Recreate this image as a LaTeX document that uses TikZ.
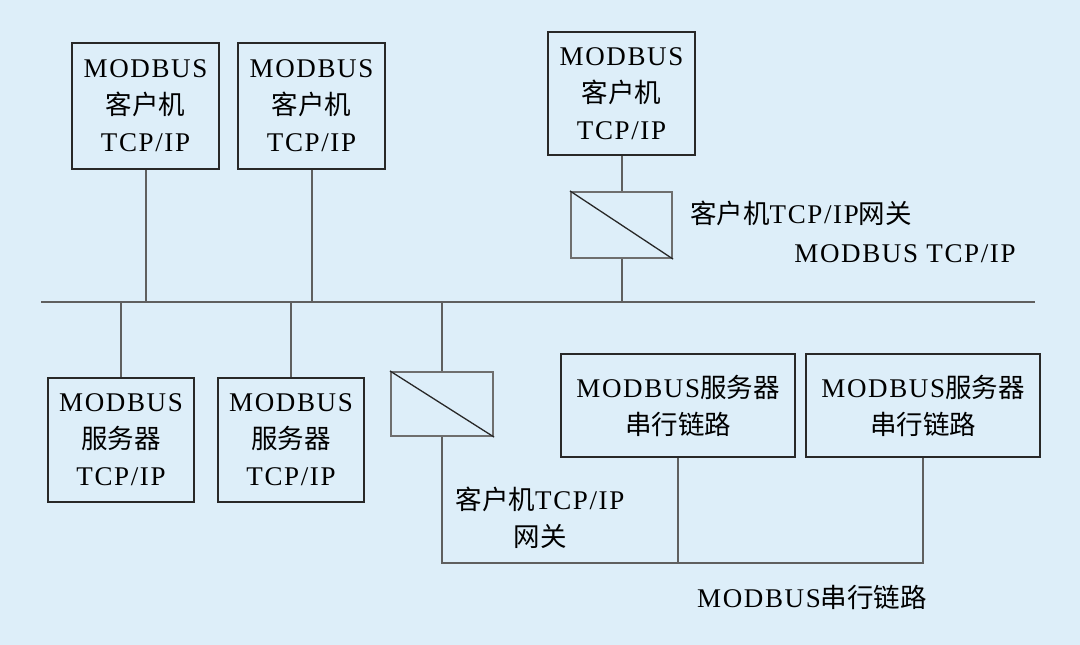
\documentclass[tikz,border=0pt]{standalone}
\usepackage{fontspec}
\setmainfont{Liberation Serif}[LetterSpace=6]
\newfontfamily\cjk{Noto Sans CJK SC}
\newcommand{\zh}[1]{{\cjk\fontsize{26.5}{37}\selectfont #1}}
\definecolor{bgblue}{RGB}{221,238,249}
\definecolor{boxline}{RGB}{40,40,40}
\definecolor{wire}{RGB}{95,95,95}
\definecolor{gwline}{RGB}{110,110,110}
\begin{document}
\begin{tikzpicture}[x=1pt,y=-1pt,
  txt/.style={font=\fontsize{27}{37}\selectfont, text=black, align=center, inner sep=0pt},
  devbox/.style={txt, draw=boxline, line width=1.8pt, fill=bgblue},
  gwbox/.style={draw=gwline, line width=2.2pt, fill=bgblue, inner sep=0pt},
  wireline/.style={draw=wire, line width=2pt},
  buslinestyle/.style={draw=wire, line width=2.4pt}]
\fill[bgblue] (0,0) rectangle (1080,645);
\useasboundingbox (0,0) rectangle (1080,645);
% bus
\coordinate (busL) at (41,302);
\coordinate (busR) at (1035,302);
\draw[buslinestyle] (busL) -- (busR);
% clients
\node[devbox, minimum width=147pt, minimum height=126pt] (c1) at (145.5,106) {MODBUS\\\zh{客户机}\\TCP/IP};
\node[devbox, minimum width=147pt, minimum height=126pt] (c2) at (311.5,106) {MODBUS\\\zh{客户机}\\TCP/IP};
\node[devbox, minimum width=147pt, minimum height=123pt] (c3) at (621.5,93.5) {MODBUS\\\zh{客户机}\\TCP/IP};
% gateway 1
\node[gwbox, minimum width=101pt, minimum height=66pt] (g1) at (621.5,225) {};
\draw[boxline, line width=1.3pt] (g1.north west) -- (g1.south east);
% servers
\node[devbox, minimum width=146pt, minimum height=124pt] (s1) at (121,440) {MODBUS\\\zh{服务器}\\TCP/IP};
\node[devbox, minimum width=146pt, minimum height=124pt] (s2) at (291,440) {MODBUS\\\zh{服务器}\\TCP/IP};
% gateway 2
\node[gwbox, minimum width=102pt, minimum height=64pt] (g2) at (442,404) {};
\draw[boxline, line width=1.3pt] (g2.north west) -- (g2.south east);
% serial servers
\node[devbox, minimum width=234pt, minimum height=103pt] (r1) at (678,405.5) {MODBUS\zh{服务器}\\\zh{串行链路}};
\node[devbox, minimum width=234pt, minimum height=103pt] (r2) at (923,405.5) {MODBUS\zh{服务器}\\\zh{串行链路}};
% connectors
\draw[wireline] (c1.south) -- (c1.south |- busL);
\draw[wireline] (c2.south) -- (c2.south |- busL);
\draw[wireline] (c3.south) -- (g1.north);
\draw[wireline] (g1.south) -- (g1.south |- busL);
\draw[wireline] (s1.north) -- (s1.north |- busL);
\draw[wireline] (s2.north) -- (s2.north |- busL);
\draw[wireline] (g2.north) -- (g2.north |- busL);
\coordinate (serialY) at (0,563);
\draw[wireline] (g2.south) -- (g2.south |- serialY) -- (r2.south |- serialY) -- (r2.south);
\draw[wireline] (r1.south) -- (r1.south |- serialY);
% labels
\node[txt, anchor=west] (lg1) at (690,213) {\zh{客户机}TCP/IP\zh{网关}};
\node[txt] (ltcp) at (905,254) {MODBUS TCP/IP};
\node[txt] (lg2) at (540,518) {\zh{客户机}TCP/IP\\\zh{网关}};
\node[txt] (lser) at (812,597) {MODBUS\zh{串行链路}};
\end{tikzpicture}
\end{document}
